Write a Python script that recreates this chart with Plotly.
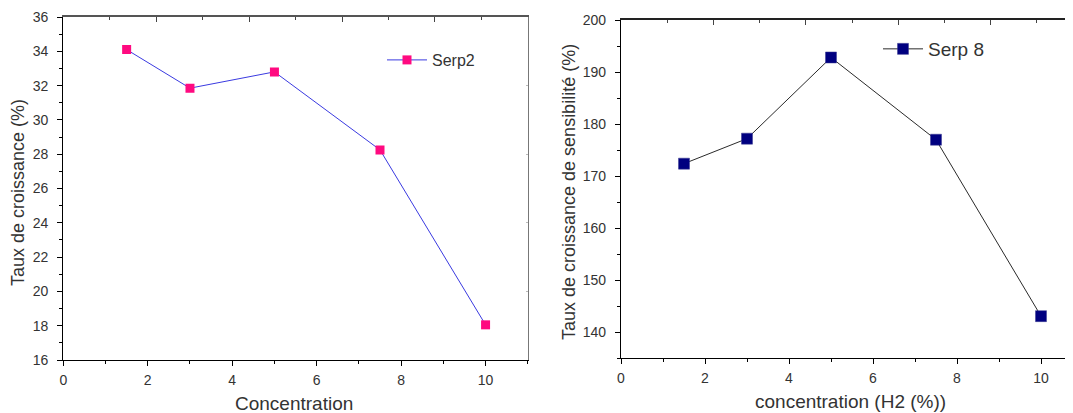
import plotly.graph_objects as go

# ---- data ----
conc_left = [1.5, 3, 5, 7.5, 10]
serp2 = [34.1, 31.85, 32.8, 28.25, 18.05]

conc_right = [1.5, 3, 5, 7.5, 10]
serp8 = [172.4, 177.2, 192.8, 177.0, 143.1]

left_xticks = [0, 2, 4, 6, 8, 10]
left_yticks = [16, 18, 20, 22, 24, 26, 28, 30, 32, 34, 36]
right_xticks = [0, 2, 4, 6, 8, 10]
right_yticks = [140, 150, 160, 170, 180, 190, 200]

FONT = "Liberation Sans, Arial, sans-serif"
TXT = "#333333"
# the page body has an 8px default margin: size the figure so it fits the window
OX, OY = 8, 8
W, H = 1073 - OX, 413 - OY


def px(x):
    return (x - OX) / W


def py(y):
    return 1 - (y - OY) / H


fig = go.Figure()

fig.add_trace(go.Scatter(
    x=conc_left, y=serp2, mode="lines+markers", name="Serp2",
    line=dict(color="#3a3ae0", width=1),
    marker=dict(symbol="square", size=9, color="#ff0a80",
                line=dict(color="#ff0a80", width=0)),
    xaxis="x", yaxis="y", legend="legend"))

fig.add_trace(go.Scatter(
    x=conc_right, y=serp8, mode="lines+markers", name="Serp 8",
    line=dict(color="#2a2a2a", width=1),
    marker=dict(symbol="square", size=11, color="#000080",
                line=dict(color="#3a3a90", width=0.5)),
    xaxis="x2", yaxis="y2", legend="legend2"))

# invisible traces to create the mirror (top/right) axes
fig.add_trace(go.Scatter(x=[None], y=[None], xaxis="x3", yaxis="y3",
                         showlegend=False, hoverinfo="skip"))
fig.add_trace(go.Scatter(x=[None], y=[None], xaxis="x4", yaxis="y4",
                         showlegend=False, hoverinfo="skip"))

L0, L1 = px(63.3), px(527.8)
R0, R1 = px(621.0), 1.0
LY0, LY1 = py(360), py(17)
RY0, RY1 = py(358.3), py(20)
r_xmax = (1073 - 621.0) / 42.0

tickfont = dict(family=FONT, size=14, color=TXT)

common_x = dict(showgrid=False, zeroline=False, showline=True, linecolor="#000",
                linewidth=1.3, ticks="outside", ticklen=5, tickwidth=1,
                tickcolor="#000", tickfont=tickfont, fixedrange=True,
                automargin=False, ticklabelstandoff=2)
common_y = dict(common_x, ticklabelstandoff=6)
mirror_common = dict(showgrid=False, zeroline=False, showticklabels=False,
                     fixedrange=True, automargin=False)

fig.update_layout(
    template="none",
    xaxis=dict(common_x, domain=[L0, L1], range=[0, 11], tickvals=left_xticks,
               anchor="y", minor=dict(dtick=1, tick0=0, ticks="outside", ticklen=3,
                                      tickcolor="#000", showgrid=False)),
    yaxis=dict(common_y, domain=[LY0, LY1], range=[16, 36], tickvals=left_yticks,
               anchor="x", minor=dict(dtick=1, tick0=0, ticks="outside", ticklen=3,
                                      tickcolor="#000", showgrid=False)),
    xaxis2=dict(common_x, domain=[R0, R1], range=[0, r_xmax], tickvals=right_xticks,
                anchor="y2", minor=dict(dtick=1, tick0=0, ticks="outside", ticklen=3,
                                        tickcolor="#000", showgrid=False)),
    yaxis2=dict(common_y, domain=[RY0, RY1], range=[135, 200], tickvals=right_yticks,
                anchor="x2", minor=dict(dtick=5, tick0=0, ticks="outside", ticklen=3,
                                        tickcolor="#000", showgrid=False)),
    xaxis3=dict(mirror_common, overlaying="x", side="top", anchor="y3", range=[0, 10],
                showline=True, linecolor="#555", linewidth=1.5, ticks="inside",
                ticklen=5, tickcolor="#444", dtick=2, tick0=0,
                minor=dict(dtick=1, tick0=0, ticks="inside", ticklen=3,
                           tickcolor="#444", showgrid=False)),
    yaxis3=dict(mirror_common, overlaying="y", side="right", anchor="x3", range=[16, 36],
                showline=True, linecolor="#777", linewidth=1, ticks="inside",
                ticklen=2, tickcolor="#bbb", tickvals=[20, 24, 28, 32]),
    xaxis4=dict(mirror_common, overlaying="x2", side="top", anchor="y4",
                range=[0, r_xmax / 1.1], showline=True, linecolor="#222",
                linewidth=1.5, ticks="inside", ticklen=5, tickcolor="#444", dtick=2,
                tick0=0,
                minor=dict(dtick=1, tick0=0, ticks="inside", ticklen=3,
                           tickcolor="#444", showgrid=False)),
    yaxis4=dict(mirror_common, overlaying="y2", side="right", anchor="x4",
                range=[135, 200], showline=False, ticks="inside", ticklen=2,
                tickcolor="#bbb", tickvals=[148, 161, 174, 187]),
    legend=dict(x=px(382), y=py(60), xanchor="left", yanchor="middle",
                bgcolor="rgba(0,0,0,0)", borderwidth=0, itemwidth=40,
                font=dict(family=FONT, size=16, color=TXT)),
    legend2=dict(x=px(878), y=py(49), xanchor="left", yanchor="middle",
                 bgcolor="rgba(0,0,0,0)", borderwidth=0, itemwidth=40,
                 font=dict(family=FONT, size=19, color=TXT)),
    width=W, height=H, autosize=False, margin=dict(l=0, r=0, t=0, b=0, pad=0),
    paper_bgcolor="white", plot_bgcolor="white", showlegend=True,
    font=dict(family=FONT, color=TXT),
)

ann = [
    dict(text="Concentration", x=294, y=403, size=19, angle=0),
    dict(text="concentration (H2 (%))", x=851, y=401, size=19, angle=0),
    dict(text="Taux de croissance (%)", x=18, y=193, size=18, angle=-90),
    dict(text="Taux de croissance de sensibilité (%)", x=569, y=192,
         size=18, angle=-90),
]
for a in ann:
    fig.add_annotation(text=a["text"], x=px(a["x"]), y=py(a["y"]),
                       xref="paper", yref="paper",
                       xanchor="center", yanchor="middle", showarrow=False,
                       textangle=a["angle"],
                       font=dict(family=FONT, size=a["size"], color=TXT))

fig.write_html("out.html")
